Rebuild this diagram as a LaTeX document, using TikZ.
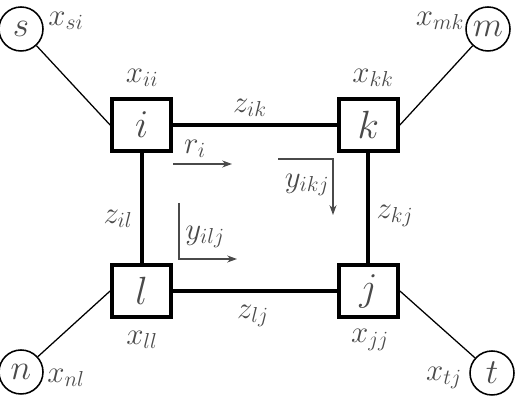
\RequirePackage{fix-cm}
\documentclass[tikz,border=0pt]{standalone}
\usepackage{tikz}
\usetikzlibrary{arrows.meta, positioning}
\definecolor{ink}{HTML}{4A4A4A}

\begin{document}
\begin{tikzpicture}[
      box/.style={draw, rectangle, line width=0.1cm,
                  minimum width=1.475cm, minimum height=1.3cm,
                  font=\fontsize{28}{30}\selectfont, text=ink},
      hub/.style={draw, circle, line width=1.1pt, minimum size=1.1cm,
                  inner sep=0pt, font=\fontsize{25}{27}\selectfont, text=ink},
      lbl/.style={font=\fontsize{22}{24}\selectfont, text=ink, inner sep=1pt},
      link/.style={line width=0.1cm},
      spoke/.style={line width=0.9pt},
      flow/.style={-{Stealth[length=7pt, width=5pt]}, line width=0.9pt, draw=ink}
    ]
    \useasboundingbox (0,0) rectangle (13.075,10.4);

    % end nodes
    \node[hub] (s) at (0.525, 9.675) {$s$};
    \node[hub] (m) at (12.2,  9.675) {$m$};
    \node[hub] (n) at (0.525, 1.1)   {$n$};
    \node[hub] (t) at (12.3,  1.075) {$t$};

    % inner nodes
    \node[box] (i) at (3.54, 7.275) {$i$};
    \node[box] (k) at (9.21, 7.275) {$k$};
    \node[box] (l) at (3.54, 3.125) {$l$};
    \node[box] (j) at (9.21, 3.125) {$j$};

    \draw[link] (i) -- (k);
    \draw[link] (k) -- (j);
    \draw[link] (i) -- (l);
    \draw[link] (l) -- (j);

    \draw[spoke] (s) -- (i.west);
    \draw[spoke] (m) -- (k.east);
    \draw[spoke] (n) -- (l.west);
    \draw[spoke] (t) -- (j.east);

    % labels
    \node[lbl] (xsi) at (1.65,  9.875) {$x_{si}$};
    \node[lbl] (xmk) at (11.0,  9.875) {$x_{mk}$};
    \node[lbl] (xii) at (3.55,  8.45)  {$x_{ii}$};
    \node[lbl] (xkk) at (9.325, 8.45)  {$x_{kk}$};
    \node[lbl] (zik) at (6.25,  7.7)   {$z_{ik}$};
    \node[lbl] (ri)  at (4.875, 6.675) {$r_{i}$};
    \node[lbl] (yikj) at (7.675,5.775) {$y_{ikj}$};
    \node[lbl] (zil) at (2.95,  4.925) {$z_{il}$};
    \node[lbl] (yilj) at (5.125,4.475) {$y_{ilj}$};
    \node[lbl] (zkj) at (9.875, 5.0)   {$z_{kj}$};
    \node[lbl] (zlj) at (6.325, 2.5)   {$z_{lj}$};
    \node[lbl] (xll) at (3.55,  1.9)   {$x_{ll}$};
    \node[lbl] (xjj) at (9.25,  1.9)   {$x_{jj}$};
    \node[lbl] (xnl) at (1.65,  0.95)  {$x_{nl}$};
    \node[lbl] (xtj) at (11.1,  0.95)  {$x_{tj}$};

    % flow arrows
    \coordinate (r0) at (4.325, 6.3);
    \coordinate (r1) at (5.8,   6.3);
    \coordinate (a0) at (6.95,  6.425);
    \coordinate (a1) at (8.325, 6.425);
    \coordinate (a2) at (8.325, 5.025);
    \coordinate (b0) at (4.475, 5.325);
    \coordinate (b1) at (4.475, 3.925);
    \coordinate (b2) at (5.925, 3.925);

    \draw[flow] (r0) -- (r1);
    \draw[flow] (a0) -- (a1) -- (a2);
    \draw[flow] (b0) -- (b1) -- (b2);
  \end{tikzpicture}
\end{document}
